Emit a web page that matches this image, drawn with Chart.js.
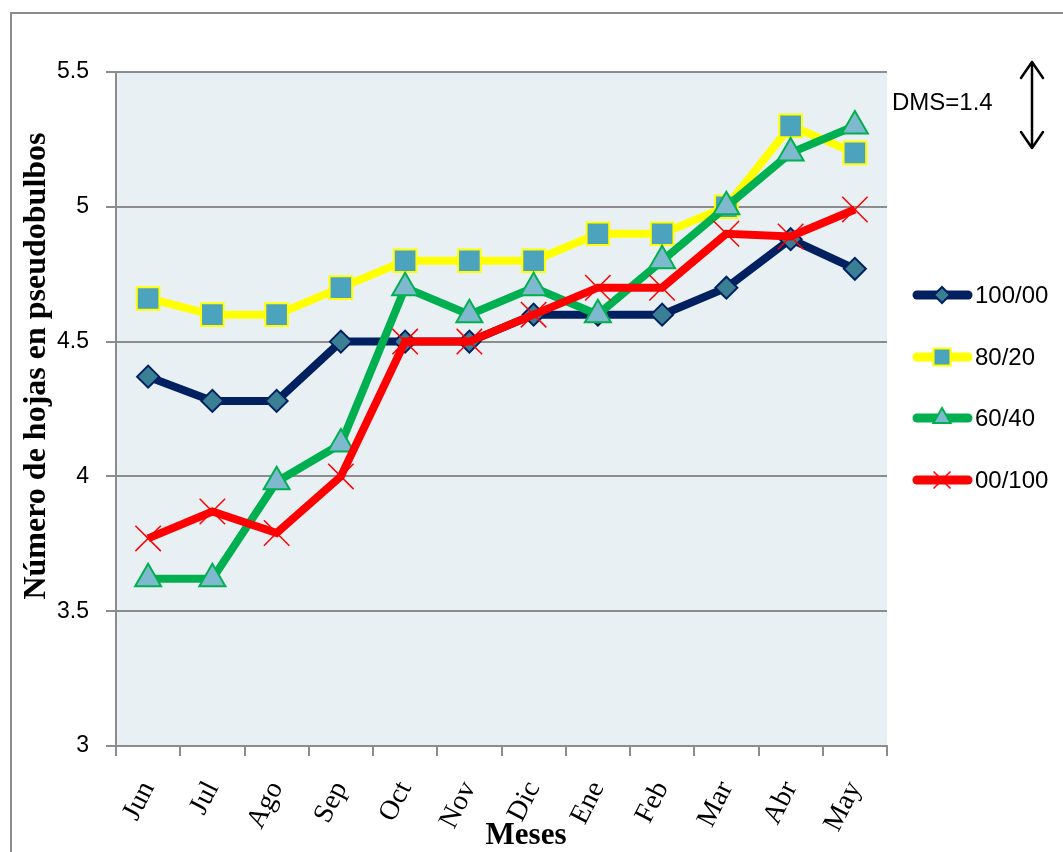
<!DOCTYPE html>
<html>
<head>
<meta charset="utf-8">
<script src="https://cdn.jsdelivr.net/npm/chart.js@4.4.1/dist/chart.umd.min.js"></script>
<style>
html,body{margin:0;padding:0;background:#fff;}
#wrap{width:1063px;height:852px;position:relative;}
</style>
</head>
<body>
<div id="wrap"><canvas id="c" width="1063" height="852"></canvas></div>
<script>
const categories = ['Jun','Jul','Ago','Sep','Oct','Nov','Dic','Ene','Feb','Mar','Abr','May'];
const s100_00 = [4.37,4.28,4.28,4.5,4.5,4.5,4.6,4.6,4.6,4.7,4.88,4.77];
const s80_20  = [4.66,4.6,4.6,4.7,4.8,4.8,4.8,4.9,4.9,5.0,5.3,5.2];
const s60_40  = [3.62,3.62,3.98,4.12,4.7,4.6,4.7,4.6,4.8,5.0,5.2,5.3];
const s00_100 = [3.77,3.87,3.79,4.0,4.5,4.5,4.6,4.7,4.7,4.9,4.89,4.99];
const seriesNames = ['100/00','80/20','60/40','00/100'];
const yTickLabels = ['3','3.5','4','4.5','5','5.5'];
const yTitle = 'Número de hojas en pseudobulbos';
const xTitle = 'Meses';
const dmsLabel = 'DMS=1.4';

const styles = [
  {line:'#002060', fill:'#3A7F93', border:'#002060', shape:'rectRot', r:11, lr:8, bw:2},
  {line:'#FFFF00', fill:'#4BA3BD', border:'#FFFF00', shape:'rect', r:16, lr:12, bw:2},
  {line:'#00B050', fill:'#7FB9CF', border:'#00B050', shape:'triangle', r:15, lr:10, bw:2},
  {line:'#FF0000', fill:'#FF0000', border:'#FF0000', shape:'crossRot', r:18, lr:12, bw:1.5}
];
const seriesData = [s100_00, s80_20, s60_40, s00_100];

const datasets = seriesData.map((d,i)=>({
  label: seriesNames[i],
  data: d,
  borderColor: styles[i].line,
  borderWidth: 8,
  backgroundColor: styles[i].fill,
  pointStyle: styles[i].shape,
  pointRadius: styles[i].r,
  pointHoverRadius: styles[i].r,
  pointBackgroundColor: styles[i].fill,
  pointBorderColor: styles[i].border,
  pointBorderWidth: styles[i].bw,
  tension: 0,
  fill: false,
  order: 3 - i
}));

function drawMarker(ctx, shape, x, y, r, fill, border, bw){
  ctx.save();
  ctx.beginPath();
  ctx.lineWidth = bw; ctx.strokeStyle = border; ctx.fillStyle = fill;
  if (shape === 'rectRot'){
    ctx.moveTo(x-r,y); ctx.lineTo(x,y-r); ctx.lineTo(x+r,y); ctx.lineTo(x,y+r); ctx.closePath();
    ctx.fill(); ctx.stroke();
  } else if (shape === 'rect'){
    const s = r*Math.SQRT1_2;
    ctx.rect(x-s,y-s,2*s,2*s); ctx.fill(); ctx.stroke();
  } else if (shape === 'triangle'){
    ctx.moveTo(x, y-r);
    ctx.lineTo(x + r*Math.sin(2*Math.PI/3), y - r*Math.cos(2*Math.PI/3));
    ctx.lineTo(x - r*Math.sin(2*Math.PI/3), y - r*Math.cos(2*Math.PI/3));
    ctx.closePath(); ctx.fill(); ctx.stroke();
  } else {
    const o = r*Math.SQRT1_2;
    ctx.moveTo(x-o,y-o); ctx.lineTo(x+o,y+o); ctx.moveTo(x+o,y-o); ctx.lineTo(x-o,y+o);
    ctx.stroke();
  }
  ctx.restore();
}

const decor = {
  id:'decor',
  beforeDraw(chart){
    const ctx = chart.ctx, a = chart.chartArea;
    ctx.save();
    ctx.fillStyle = '#fff'; ctx.fillRect(0,0,chart.width,chart.height);
    ctx.strokeStyle = '#8C8C8C'; ctx.lineWidth = 2;
    ctx.strokeRect(11,13,1200,1000);
    ctx.fillStyle = '#E9F0F4';
    ctx.fillRect(a.left, a.top, a.right-a.left, a.bottom-a.top);
    ctx.restore();
  },
  afterDraw(chart){
    const ctx = chart.ctx;
    ctx.save();
    // Y title
    ctx.translate(37, 366);
    ctx.rotate(-Math.PI/2);
    ctx.font = 'bold 32px "Liberation Serif"';
    ctx.fillStyle = '#000'; ctx.textAlign = 'center'; ctx.textBaseline = 'middle';
    ctx.fillText(yTitle, 0, 0);
    ctx.restore();
    // X title
    ctx.save();
    ctx.font = 'bold 31px "Liberation Serif"';
    ctx.fillStyle = '#000'; ctx.textAlign = 'center'; ctx.textBaseline = 'middle';
    ctx.fillText(xTitle, 526, 836);
    ctx.restore();
    // DMS
    ctx.save();
    ctx.font = '24px "Liberation Sans"';
    ctx.fillStyle = '#000'; ctx.textAlign = 'left'; ctx.textBaseline = 'middle';
    ctx.fillText(dmsLabel, 892, 103);
    ctx.strokeStyle = '#000'; ctx.lineWidth = 2.5; ctx.lineCap='round'; ctx.lineJoin='round';
    ctx.beginPath();
    ctx.moveTo(1032, 62); ctx.lineTo(1032, 148);
    ctx.moveTo(1021, 78); ctx.lineTo(1032, 62); ctx.lineTo(1043, 78);
    ctx.moveTo(1021, 132); ctx.lineTo(1032, 148); ctx.lineTo(1043, 132);
    ctx.stroke();
    ctx.restore();
    // Legend
    const ys = [295, 357, 418, 480];
    for (let i=0;i<4;i++){
      const st = styles[i], y = ys[i];
      ctx.save();
      ctx.strokeStyle = st.line; ctx.lineWidth = 9; ctx.lineCap = 'round';
      ctx.beginPath(); ctx.moveTo(917, y); ctx.lineTo(968, y); ctx.stroke();
      ctx.restore();
      drawMarker(ctx, st.shape, 942, y, st.lr, st.fill, st.border, st.bw);
      ctx.save();
      ctx.font = '24px "Liberation Sans"';
      ctx.fillStyle = '#000'; ctx.textAlign = 'left'; ctx.textBaseline = 'middle';
      ctx.fillText(seriesNames[i], 975, y + 1);
      ctx.restore();
    }
  }
};

new Chart(document.getElementById('c'), {
  type:'line',
  data:{ labels: categories, datasets },
  options:{
    responsive:false,
    animation:false,
    devicePixelRatio:1,
    layout:{ padding:{ left:0, top:72, right:176, bottom:0 } },
    plugins:{ legend:{display:false}, tooltip:{enabled:false}, title:{display:false} },
    scales:{
      x:{
        type:'category',
        offset:true,
        grid:{ display:true, drawOnChartArea:false, drawTicks:true, tickLength:10, color:'#8C8C8C', lineWidth:2, offset:true },
        border:{ display:true, color:'#8C8C8C', width:2 },
        ticks:{ font:{ family:'"Liberation Serif"', size:28 }, color:'#000', maxRotation:63, minRotation:63, padding:20, autoSkip:false },
        title:{ display:false },
        afterFit(scale){ scale.height = 106; }
      },
      y:{
        min:3, max:5.5,
        grid:{ color:'#8C8C8C', lineWidth:2, tickLength:10, drawTicks:true },
        border:{ display:true, color:'#8C8C8C', width:2 },
        ticks:{ stepSize:0.5, font:{ family:'"Liberation Sans"', size:23 }, color:'#000', padding:17,
          callback:(v)=>{ const idx = Math.round((v-3)/0.5); return yTickLabels[idx]; } },
        afterFit(scale){ scale.width = 116; }
      }
    }
  },
  plugins:[decor]
});
</script>
</body>
</html>
